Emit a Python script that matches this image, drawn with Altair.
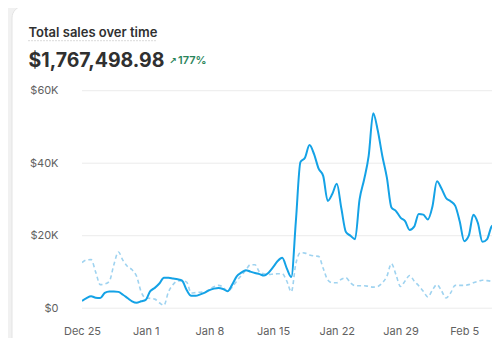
import altair as alt
import pandas as pd

# ---- data (values in dollars, every 12 hours from Dec 25) ----
current_k = [2.0, 2.8, 3.3, 2.9, 2.8, 4.2, 4.6, 4.6, 4.5, 3.7,
             2.8, 1.9, 1.5, 1.9, 2.3, 4.7, 5.6, 6.8, 8.4, 8.4,
             8.2, 8.0, 7.6, 5.0, 3.4, 3.4, 3.8, 4.3, 5.0, 5.4,
             5.6, 5.3, 4.7, 6.5, 8.8, 9.8, 10.5, 10.1, 9.7, 9.4,
             9.0, 9.8, 11.3, 13.0, 13.9, 11.0, 8.6, 24.0, 40.3, 41.5,
             45.0, 42.5, 38.5, 36.5, 29.6, 31.5, 34.3, 27.5, 21.0, 20.0,
             19.0, 30.0, 35.5, 42.0, 53.8, 49.0, 42.0, 36.0, 27.8, 26.8,
             25.0, 24.0, 21.6, 22.5, 26.0, 25.8, 24.5, 28.0, 35.0, 33.0,
             30.4, 29.5, 28.3, 24.0, 18.5, 20.0, 25.8, 23.5, 18.3, 19.0,
             22.5, 23.4, 30.5]
previous_k = [12.6, 13.3, 13.4, 10.0, 6.5, 6.7, 7.4, 12.0, 15.5, 13.2,
              11.5, 10.6, 8.8, 4.5, 2.8, 2.7, 2.5, 1.5, 0.8, 4.5,
              6.5, 7.5, 7.6, 7.2, 4.2, 4.3, 4.4, 4.5, 5.2, 5.9,
              6.3, 5.8, 4.7, 5.8, 7.5, 9.0, 10.5, 12.0, 12.0, 10.0,
              9.5, 9.3, 9.4, 9.5, 9.5, 7.5, 4.5, 12.3, 15.3, 15.2,
              14.7, 14.4, 14.3, 11.0, 7.8, 7.0, 7.0, 8.0, 8.4, 7.0,
              6.2, 6.2, 6.2, 6.0, 5.8, 6.0, 7.0, 8.8, 12.3, 9.2,
              6.0, 7.5, 9.0, 7.5, 6.2, 4.7, 3.1, 5.0, 6.5, 4.8,
              2.8, 4.2, 6.3, 6.3, 6.3, 6.5, 7.0, 7.4, 7.7, 7.6,
              7.4, 7.0, 6.3]
series_names = ["Current", "Previous"]
tick_dates = ["2023-12-25", "2024-01-01", "2024-01-08", "2024-01-15",
              "2024-01-22", "2024-01-29", "2024-02-05"]
y_ticks = [0, 20000, 40000, 60000]
title_text = "Total sales over time"
total_text = "$1,767,498.98"
change_text = "177%"

times = pd.date_range("2023-12-25", periods=len(current_k), freq="12h")
time_str = [t.strftime("%Y-%m-%dT%H:%M:%S") for t in times]
df = pd.DataFrame({
    "time": time_str * 2,
    "value": [v * 1000 for v in current_k] + [v * 1000 for v in previous_k],
    "series": [series_names[0]] * len(current_k) + [series_names[1]] * len(previous_k),
})
grid_df = pd.DataFrame({"value": y_ticks})

FONT = "Inter"
W, H = 410, 217.5

def dt(s):
    y, m, d = [int(p) for p in s.split("-")]
    return alt.DateTime(year=y, month=m, date=d)

x_scale = alt.Scale(domain=[alt.DateTime(year=2023, month=12, date=25),
                            alt.DateTime(year=2024, month=2, date=8, hours=1, minutes=12)])
y_scale = alt.Scale(domain=[0, 60000], nice=False)

x_enc = alt.X(
    "time:T", scale=x_scale,
    axis=alt.Axis(values=[dt(s) for s in tick_dates], format="%b %-d", title=None,
                  grid=False, domain=False, ticks=False, labelPadding=17, zindex=1,
                  labelFlush=False, labelOverlap=False,
                  labelFont=FONT, labelFontSize=11, labelColor="#616161"),
)
y_axis = alt.Axis(values=y_ticks, title=None, domain=False, ticks=False, grid=False,
                  labelPadding=24, zindex=1, labelFlush=False,
                  labelExpr="datum.value == 0 ? '$0' : '$' + (datum.value / 1000) + 'K'",
                  labelFont=FONT, labelFontSize=11, labelColor="#616161")
y_enc = alt.Y("value:Q", scale=y_scale, axis=y_axis)

one = pd.DataFrame({"k": [0]})

card = alt.Chart(one).mark_rect(
    color="white", cornerRadius=12, stroke="#e3e3e3", strokeWidth=1
).encode(
    x=alt.value(-70), x2=alt.value(W + 30), y=alt.value(-84.7), y2=alt.value(H + 60)
)

grid = alt.Chart(grid_df).mark_rule(color="#ebebeb", strokeWidth=1).encode(
    y=y_enc, x=alt.value(0), x2=alt.value(W),
)

prev_line = alt.Chart(df).transform_filter(
    alt.datum.series == series_names[1]
).mark_line(
    interpolate="monotone", color="#9fd3f0", strokeWidth=1.6, strokeDash=[4, 3], clip=True
).encode(x=x_enc, y=y_enc)

cur_line = alt.Chart(df).transform_filter(
    alt.datum.series == series_names[0]
).mark_line(
    interpolate="monotone", color="#14a2e6", strokeWidth=2, clip=True
).encode(x=x_enc, y=y_enc)

title_mark = alt.Chart(one).mark_text(
    text=title_text, font=FONT, fontSize=13, fontWeight=600, color="#303030",
    align="left", baseline="alphabetic"
).encode(x=alt.value(-53.5), y=alt.value(-53.4))

underline = alt.Chart(one).mark_rule(
    color="#b5b5b5", strokeWidth=1, strokeDash=[1, 2]
).encode(x=alt.value(-53.5), x2=alt.value(74), y=alt.value(-50))

total_mark = alt.Chart(one).mark_text(
    text=total_text, font=FONT, fontSize=19.5, fontWeight=700, color="#303030",
    align="left", baseline="alphabetic"
).encode(x=alt.value(-53.5), y=alt.value(-24))

arrow_mark = alt.Chart(one).mark_text(
    text="↗", font="DejaVu Sans", fontSize=9, fontWeight="bold", color="#29845a",
    align="left", baseline="alphabetic"
).encode(x=alt.value(87), y=alt.value(-27))

change_mark = alt.Chart(one).mark_text(
    text=change_text, font=FONT, fontSize=11, fontWeight=600, color="#29845a",
    align="left", baseline="alphabetic"
).encode(x=alt.value(96), y=alt.value(-26.5))

chart = alt.layer(
    card, grid, prev_line, cur_line, title_mark, underline, total_mark, arrow_mark, change_mark
).properties(
    width=W, height=H,
    autosize=alt.AutoSizeParams(type="none"),
    padding={"left": 74, "top": 82.7, "right": 0, "bottom": 30},
    background="#f1f1f1",
).configure_view(stroke=None)

chart.save("out.html", embed_options={"renderer": "svg", "actions": False})
